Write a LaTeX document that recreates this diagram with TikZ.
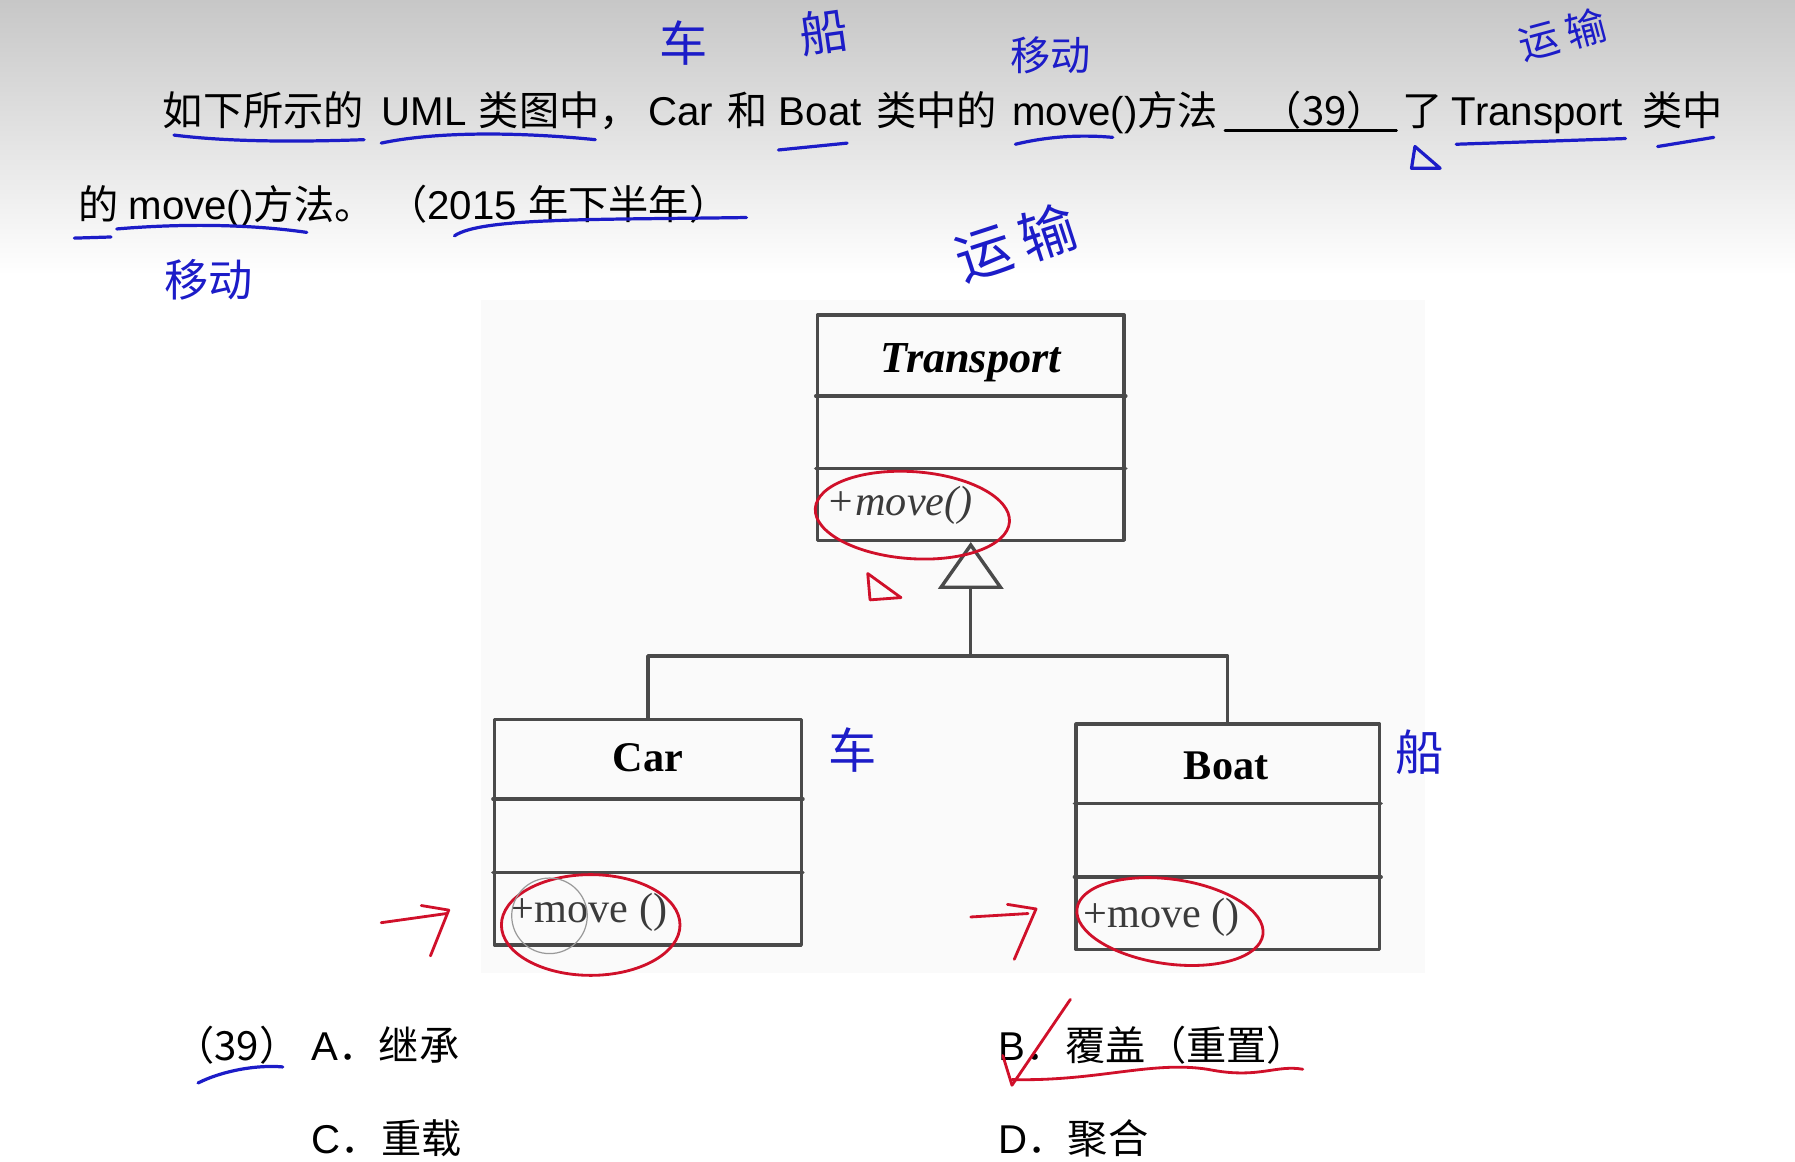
\documentclass[tikz,border=0pt]{standalone}
\usepackage{fontspec}
\setmainfont{Liberation Sans}
\newfontfamily\cjk{Noto Sans CJK SC}
\newfontfamily\umlfont{Liberation Serif}
\usetikzlibrary{arrows.meta}
\definecolor{ink}{HTML}{1C1CC8}
\definecolor{pen}{HTML}{D0102A}
\definecolor{umlgray}{HTML}{4A4A4A}
\newcommand{\zh}[1]{{\cjk #1}}
\tikzset{
  qtext/.style={anchor=base west,inner sep=0pt,font=\fontsize{20}{24}\selectfont},
  classbox/.style={draw=umlgray,line width=1.7pt,minimum width=5.36cm,minimum height=3.94cm,inner sep=0pt},
  classname/.style={anchor=base,inner sep=0pt,font=\fontsize{21}{24}\umlfont\bfseries},
  method/.style={anchor=base west,inner sep=0pt,text=umlgray!80!black,font=\fontsize{21}{24}\umlfont},
  hand/.style={ink,inner sep=0pt,font=\fontsize{24}{26}\cjk},
  blueline/.style={ink,line width=1.6pt},
  redline/.style={pen,line width=1.4pt}
}
\begin{document}
\begin{tikzpicture}[x=0.02cm,y=-0.02cm,line cap=round,line join=round]
\useasboundingbox (0,0) rectangle (1568,1015);
\shade[top color=black!22,bottom color=white] (0,0) rectangle (1568,240);
\fill[black!2] (420,262) rectangle (1245,850);

% question, line 1
\node[qtext] (qa) at (142,110) {\zh{如下所示的}};
\node[qtext] (qb) at (333,110) {UML};
\node[qtext] (qc) at (418,110) {\zh{类图中，}};
\node[qtext] (qd) at (566,110) {Car};
\node[qtext] (qe) at (635,110) {\zh{和}};
\node[qtext] (qf) at (680,110) {Boat};
\node[qtext] (qg) at (765,110) {\zh{类中的}};
\node[qtext] (qh) at (884,110) {move()\zh{方法}};
\node[qtext] (qi) at (1102,110) {\zh{（39）}};
\draw[line width=1.2pt] (1070,114) -- (1220,114);
\node[qtext] (qj) at (1225,110) {\zh{了}};
\node[qtext] (qk) at (1268,110) {Transport};
\node[qtext] (ql) at (1434,110) {\zh{类中}};
% question, line 2
\node[qtext] (qm) at (68,192) {\zh{的}};
\node[qtext] (qn) at (112,192) {move()\zh{方法。}};
\node[qtext] (qo) at (338,192) {\zh{（}2015 \zh{年下半年）}};

% classes
\node[classbox] (transport) at (848,373.5) {};
\node[classbox] (car) at (566,727) {};
\node[classbox,minimum width=5.3cm] (boat) at (1072.5,731) {};
\draw[umlgray,line width=1.7pt] (transport.west |- 0,346) -- (transport.east |- 0,346);
\draw[umlgray,line width=1.7pt] (transport.west |- 0,409) -- (transport.east |- 0,409);
\draw[umlgray,line width=1.7pt] (car.west |- 0,698) -- (car.east |- 0,698);
\draw[umlgray,line width=1.7pt] (car.west |- 0,762) -- (car.east |- 0,762);
\draw[umlgray,line width=1.7pt] (boat.west |- 0,702) -- (boat.east |- 0,702);
\draw[umlgray,line width=1.7pt] (boat.west |- 0,766) -- (boat.east |- 0,766);
\node[classname,font=\fontsize{22}{24}\umlfont\bfseries\itshape] (transportname) at (848,325) {Transport};
\node[method,font=\fontsize{21}{24}\umlfont\itshape] (transportmove) at (722,450) {+move()};
\node[classname] (carname) at (566,674) {Car};
\node[method] (carmove) at (446,806) {+move ()};
\node[classname] (boatname) at (1071,681) {Boat};
\node[method] (boatmove) at (946,810) {+move ()};

% inheritance
\coordinate (jn) at (848,573);
\draw[umlgray,line width=1.7pt] (car.north) |- (jn);
\draw[umlgray,line width=1.7pt] (boat.north) |- (jn);
\draw[umlgray,line width=1.7pt,-{Triangle[open,length=0.82cm,width=1.14cm]}] (jn) -- (transport.south);

% options
\node[qtext] (n39) at (152,926) {\zh{（39）}};
\node[qtext] (optA) at (272,926) {A\zh{．继承}};
\node[qtext] (optB) at (872,926) {B\zh{．覆盖（重置）}};
\node[qtext] (optC) at (272,1008) {C\zh{．重载}};
\node[qtext] (optD) at (872,1008) {D\zh{．聚合}};

% red pen
\draw[redline,rotate around={-4:(797,450)}] (797,450) ellipse [x radius=85,y radius=38];
\draw[redline] (516,808) ellipse [x radius=78,y radius=44];
\draw[redline,rotate around={-8:(1022,805)}] (1022,805) ellipse [x radius=82,y radius=37];
\draw[redline] (758,501) -- (760,524) -- (787,522) -- cycle;
\draw[redline] (333,806) -- (390,798);
\draw[redline] (368,791) -- (392,795) -- (376,835);
\draw[redline] (848,801) -- (898,798);
\draw[redline] (880,790) -- (905,794) -- (886,838);
\draw[redline] (876,922) -- (884,948) -- (935,873);
\draw[redline] (884,943) .. controls (960,945) and (1010,925) .. (1060,935) .. controls (1100,942) and (1115,930) .. (1138,934);
\draw[black!40,line width=0.6pt] (480,800) circle [radius=33];

% blue pen
\draw[blueline] (152,118) .. controls (200,124) and (260,124) .. (318,122);
\draw[blueline] (333,125) .. controls (380,115) and (450,115) .. (520,122);
\draw[blueline] (680,131) -- (740,125);
\draw[blueline] (887,126) .. controls (920,118) and (950,118) .. (972,120);
\draw[blueline] (1236,128) -- (1233,147) -- (1258,147) -- cycle;
\draw[blueline] (1272,126) -- (1420,121);
\draw[blueline] (1448,128) -- (1497,120);
\draw[blueline] (65,208) -- (97,207);
\draw[blueline] (102,200) .. controls (160,195) and (220,196) .. (268,203);
\draw[blueline] (397,206) .. controls (420,190) and (520,192) .. (652,190);
\draw[blueline] (173,946) .. controls (195,935) and (225,930) .. (247,932);
\node[hand] (hcar1) at (597,38) {车};
\node[hand,rotate=8] (hboat1) at (720,28) {船};
\node[hand,font=\fontsize{20}{22}\cjk] (hmove1) at (918,48) {移动};
\node[hand,rotate=15,font=\fontsize{20}{22}\cjk] (htrans1a) at (1345,36) {运};
\node[hand,rotate=15,font=\fontsize{20}{22}\cjk] (htrans1b) at (1385,25) {输};
\node[hand,rotate=18,font=\fontsize{28}{30}\cjk] (htrans2a) at (860,222) {运};
\node[hand,rotate=18,font=\fontsize{28}{30}\cjk] (htrans2b) at (915,203) {输};
\node[hand,font=\fontsize{22}{24}\cjk] (hmove2) at (182,244) {移动};
\node[hand] (hcar2) at (745,655) {车};
\node[hand] (hboat2) at (1240,657) {船};
\end{tikzpicture}
\end{document}
